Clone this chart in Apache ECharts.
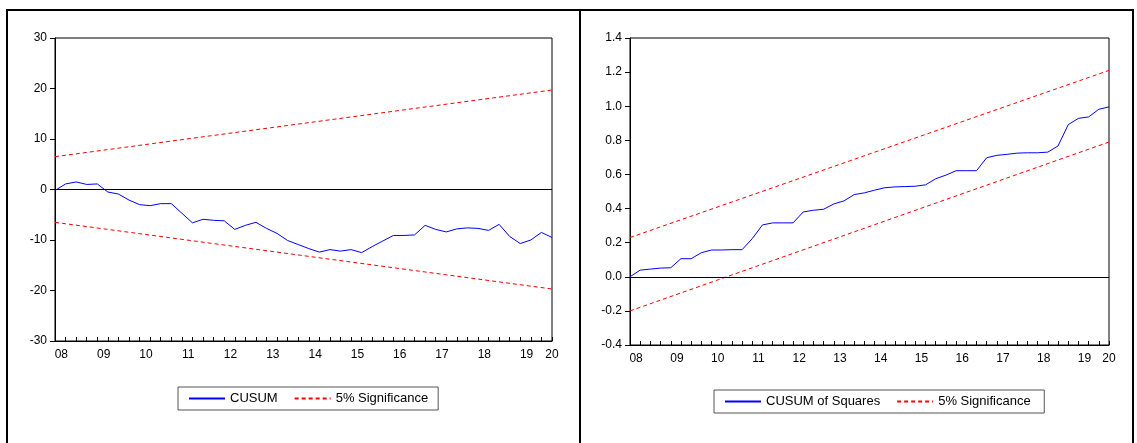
<!DOCTYPE html>
<html>
<head>
<meta charset="utf-8">
<script src="https://cdn.jsdelivr.net/npm/echarts@6/dist/echarts.min.js"></script>
<style>
  html, body { margin: 0; padding: 0; background: #fff; }
  #main { width: 1137px; height: 443px; }
</style>
</head>
<body>
<div id="main"></div>
<script>
// quarterly observations, index 0 = 2008 start
const yearLabels = ['08', '09', '10', '11', '12', '13', '14', '15', '16', '17', '18', '19', '20']
const yearPos = [0.6, 4.6, 8.6, 12.6, 16.6, 20.6, 24.6, 28.6, 32.6, 36.6, 40.6, 44.6, 47]

const cusum = [-0.2, 1.1, 1.5, 1.0, 1.1, -0.5, -0.9, -2.1, -3.0, -3.2, -2.8, -2.8, -4.7, -6.6, -5.9, -6.1,
  -6.2, -7.9, -7.1, -6.5, -7.7, -8.7, -10.1, -10.9, -11.7, -12.4, -11.9, -12.2, -11.9, -12.5, -11.3, -10.2,
  -9.1, -9.1, -9.0, -7.1, -7.9, -8.4, -7.8, -7.6, -7.7, -8.1, -6.9, -9.3, -10.7, -10.0, -8.5, -9.5]
const cusumUpper = [[0, 6.5], [47, 19.7]]
const cusumLower = [[0, -6.5], [47, -19.7]]

const cusumSq = [0, 0.039, 0.045, 0.051, 0.053, 0.106, 0.106, 0.141, 0.157, 0.157, 0.159, 0.159, 0.224, 0.304,
  0.316, 0.316, 0.316, 0.380, 0.390, 0.396, 0.427, 0.445, 0.482, 0.492, 0.508, 0.522, 0.527, 0.529, 0.531,
  0.539, 0.575, 0.596, 0.622, 0.622, 0.622, 0.698, 0.712, 0.718, 0.725, 0.727, 0.727, 0.731, 0.767, 0.892,
  0.929, 0.937, 0.982, 0.996]
const sqUpper = [[0, 0.23], [47, 1.21]]
const sqLower = [[0, -0.20], [47, 0.79]]

const font = 'Liberation Sans, Arial, sans-serif'
const tickIdx = cusum.map((v, i) => i)

function xAxisOf(gridIndex) {
  return {
    type: 'value', gridIndex: gridIndex, min: 0, max: 47,
    axisLine: { onZero: false, lineStyle: { color: '#000' } },
    splitLine: { show: false },
    axisTick: { customValues: tickIdx, inside: true, length: 4, lineStyle: { color: '#000' } },
    axisLabel: {
      customValues: yearPos, color: '#000', fontFamily: font, fontSize: 12, margin: 8,
      formatter: v => yearLabels[yearPos.indexOf(v)]
    }
  }
}
function yAxisOf(gridIndex, min, max, interval, digits) {
  return {
    type: 'value', gridIndex: gridIndex, min: min, max: max, interval: interval,
    axisLine: { show: true, onZero: false, lineStyle: { color: '#000' } },
    splitLine: { show: false },
    axisTick: { show: true, length: 5, lineStyle: { color: '#000' } },
    axisLabel: { color: '#000', fontFamily: font, fontSize: 12, formatter: v => v.toFixed(digits) }
  }
}
const zeroLine = {
  silent: true, symbol: 'none', label: { show: false },
  lineStyle: { color: '#000', type: 'solid', width: 1 },
  data: [{ yAxis: 0 }]
}
function dashed(name, data, xi) {
  return {
    name: name, type: 'line', xAxisIndex: xi, yAxisIndex: xi, data: data, symbol: 'none',
    lineStyle: { color: '#ff0000', type: [4, 3], width: 1 }, itemStyle: { color: '#ff0000' }
  }
}
function legendOf(names, left, top) {
  return {
    data: names, left: left, top: top, itemWidth: 36, itemHeight: 10, itemGap: 16,
    borderColor: '#555', borderWidth: 1, borderRadius: 0, padding: [5, 10],
    itemStyle: { opacity: 0 },
    textStyle: { color: '#000', fontFamily: font, fontSize: 13 }
  }
}

const option = {
  animation: false,
  backgroundColor: '#fff',
  grid: [
    { left: 55, right: 585, top: 38, bottom: 102, show: true, borderColor: '#000', borderWidth: 1 },
    { left: 630, right: 28, top: 38, bottom: 98, show: true, borderColor: '#000', borderWidth: 1 }
  ],
  xAxis: [xAxisOf(0), xAxisOf(1)],
  yAxis: [yAxisOf(0, -30, 30, 10, 0), yAxisOf(1, -0.4, 1.4, 0.2, 1)],
  legend: [
    legendOf(['CUSUM', '5% Significance'], 178, 387),
    legendOf(['CUSUM of Squares', '5% Significance '], 714, 390)
  ],
  graphic: [
    { type: 'rect', shape: { x: 7, y: 10, width: 1126, height: 440 }, style: { fill: 'none', stroke: '#000', lineWidth: 2 }, silent: true },
    { type: 'line', shape: { x1: 580, y1: 10, x2: 580, y2: 443 }, style: { stroke: '#000', lineWidth: 2 }, silent: true }
  ],
  series: [
    {
      name: 'CUSUM', type: 'line', xAxisIndex: 0, yAxisIndex: 0, symbol: 'none',
      data: cusum.map((v, i) => [i, v]),
      lineStyle: { color: '#0000ff', width: 1 }, itemStyle: { color: '#0000ff' },
      markLine: zeroLine
    },
    dashed('5% Significance', cusumUpper, 0),
    dashed('5% Significance', cusumLower, 0),
    {
      name: 'CUSUM of Squares', type: 'line', xAxisIndex: 1, yAxisIndex: 1, symbol: 'none',
      data: cusumSq.map((v, i) => [i, v]),
      lineStyle: { color: '#0000ff', width: 1 }, itemStyle: { color: '#0000ff' },
      markLine: zeroLine
    },
    dashed('5% Significance ', sqUpper, 1),
    dashed('5% Significance ', sqLower, 1)
  ]
}

const myChart = echarts.init(document.getElementById('main'))
myChart.setOption(option)
</script>
</body>
</html>
